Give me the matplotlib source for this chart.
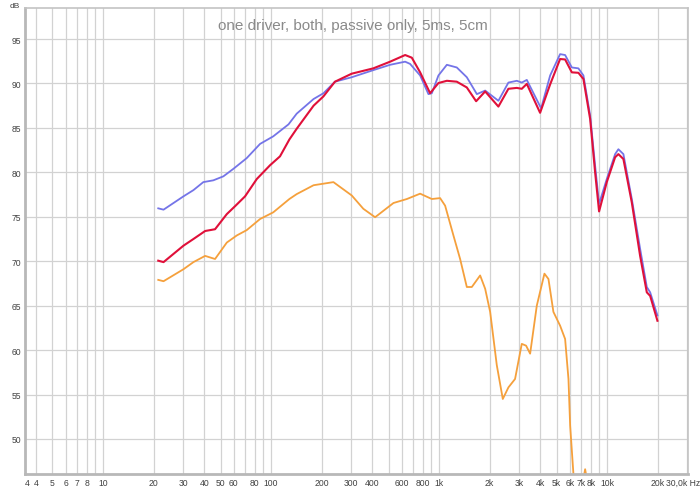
import numpy as np
import matplotlib
matplotlib.use("Agg")
import matplotlib.pyplot as plt
import matplotlib.transforms as mtransforms
from matplotlib import font_manager

plt.rcParams['font.family'] = ['Liberation Sans', 'DejaVu Sans']

# blue trace
blue_f = [21.3, 22.9, 30.1, 34.5, 39.5, 45.3, 52.0, 59.7, 71.6, 86.0, 103, 127, 142, 179, 205, 240,
          302, 406, 511, 628, 672, 771, 864, 905, 991, 1112, 1274, 1462, 1678, 1880, 2254, 2585,
          2900, 3105, 3327, 4047, 4581, 5250, 5624, 6166, 6747, 7228, 7925, 8484, 8958, 9955,
          11160, 11670, 12500, 14030, 15720, 17230, 18040, 19930]
blue_db = [75.95, 75.8, 77.3, 78.0, 78.9, 79.1, 79.55, 80.4, 81.6, 83.2, 84.05, 85.4, 86.6, 88.25, 88.9, 90.2,
           90.7, 91.5, 92.1, 92.45, 92.2, 90.9, 88.8, 88.9, 90.9, 92.1, 91.8, 90.7, 88.8, 89.2, 88.05, 90.1,
           90.3, 90.1, 90.4, 87.2, 90.9, 93.3, 93.2, 91.8, 91.7, 90.9, 86.4, 80.75, 76.45, 79.25,
           82.05, 82.6, 82.05, 77.0, 71.4, 67.1, 66.5, 63.9]

# red trace
red_f = [21.3, 22.9, 30.1, 34.5, 40.5, 46.4, 54.5, 61.1, 70.0, 82.2, 98.6, 113, 128.5, 142, 179, 205, 240,
         302, 406, 511, 628, 688, 771, 884, 991, 1112, 1274, 1462, 1661, 1880, 2254, 2585, 2900,
         3105, 3327, 3991, 4581, 5250, 5624, 6166, 6747, 7228, 7925, 8484, 8958, 9955, 11160,
         11670, 12500, 14030, 15720, 17230, 18040, 19930]
red_db = [70.06, 69.9, 71.75, 72.5, 73.4, 73.6, 75.3, 76.2, 77.3, 79.25, 80.8, 81.8, 83.7, 84.9, 87.5, 88.55, 90.2,
          91.1, 91.7, 92.45, 93.2, 92.9, 91.25, 88.9, 90.05, 90.3, 90.2, 89.55, 88.0, 89.1, 87.4, 89.4, 89.5,
          89.4, 89.95, 86.7, 89.9, 92.75, 92.7, 91.25, 91.2, 90.5, 86.0, 80.0, 75.6, 78.9, 81.7,
          82.05, 81.5, 76.6, 70.6, 66.5, 66.1, 63.3]

# orange trace
orange_f = [21.3, 22.9, 30.1, 34.5, 40.5, 46.4, 54.5, 62.5, 71.6, 86.0, 103, 128.5, 142, 179, 235, 302,
            354, 416, 535, 643, 771, 905, 1014, 1086, 1217, 1334, 1462, 1566, 1755, 1880, 2013, 2205,
            2394, 2585, 2832, 3105, 3294, 3482, 3815, 4236, 4476, 4790, 5250, 5624, 5888, 6026, 6300,
            6600, 7000, 7200, 7400, 7600, 7900]
orange_db = [67.9, 67.75, 69.1, 69.9, 70.6, 70.25, 72.1, 72.9, 73.5, 74.75, 75.5, 77.0, 77.55, 78.55, 78.9, 77.4,
             75.9, 74.95, 76.55, 77.0, 77.6, 77.0, 77.1, 76.25, 72.9, 70.25, 67.1, 67.1, 68.4, 66.9, 64.3, 58.3,
             54.5, 55.8, 56.75, 60.7, 60.5, 59.6, 65.0, 68.6, 68.0, 64.3, 62.75, 61.25, 56.75, 51.5, 46.1,
             40.0, 41.0, 45.3, 46.6, 45.3, 40.0]

grid_x = [f * d for d in (1, 10, 100, 1000, 10000) for f in range(1, 10)]
grid_x = [g for g in grid_x if 4 <= g <= 30000]
tick_x = [3.55, 4, 5, 6, 7, 8, 10, 20, 30, 40, 50, 60, 80, 100, 200, 300, 400, 600, 800,
          1000, 2000, 3000, 4000, 5000, 6000, 7000, 8000, 10000, 20000]
tick_lbl = ['4', '4', '5', '6', '7', '8', '10', '20', '30', '40', '50', '60', '80', '100', '200',
            '300', '400', '600', '800', '1k', '2k', '3k', '4k', '5k', '6k', '7k', '8k', '10k', '20k']
y_ticks = [50, 55, 60, 65, 70, 75, 80, 85, 90, 95]

installed = {f.name for f in font_manager.fontManager.ttflist}
title_font = 'Liberation Sans Narrow' if 'Liberation Sans Narrow' in installed else 'Liberation Sans'

fig = plt.figure(figsize=(7.0, 4.89), dpi=100)
ax = fig.add_axes([25 / 700, 1 - 475 / 489, 663 / 700, 466 / 489])
ax.set_xscale('log')
ax.set_xlim(3.43, 30300)
ax.set_ylim(46.06, 98.49)

for g in grid_x:
    ax.axvline(g, color='#d2d2d2', lw=0.9, zorder=0)
for y in y_ticks:
    ax.axhline(y, color='#d2d2d2', lw=0.9, zorder=0)

ax.plot(orange_f, orange_db, color='#f5a03c', lw=1.3, solid_joinstyle='round')
ax.plot(blue_f, blue_db, color='#7474e8', lw=1.3, solid_joinstyle='round')
ax.plot(red_f, red_db, color='#e0103a', lw=1.5, solid_joinstyle='round')

ax.xaxis.set_minor_locator(matplotlib.ticker.NullLocator())
ax.set_xticks(tick_x + [30300])
ax.set_xticklabels(tick_lbl + ['30,0k Hz'])
ax.set_yticks(y_ticks)
ax.set_yticklabels([str(v) for v in y_ticks])
ax.tick_params(length=0, labelsize=6.2, labelcolor='#404040', pad=3)
last = ax.get_xticklabels()[-1]
last.set_transform(last.get_transform() + mtransforms.ScaledTranslation(-5 / 100, 0, fig.dpi_scale_trans))

for side in ('left', 'bottom'):
    ax.spines[side].set_color('#b8b8b8')
    ax.spines[side].set_linewidth(2.0)
for side in ('top', 'right'):
    ax.spines[side].set_color('#c4c4c4')
    ax.spines[side].set_linewidth(1.2)

ax.text(0.495, 0.978, 'one driver, both, passive only, 5ms, 5cm', transform=ax.transAxes,
        ha='center', va='top', fontsize=12.5 if title_font.endswith('Narrow') else 11,
        family=[title_font, 'DejaVu Sans'], color='#8a8a8a')
fig.text(15 / 700, 1 - 3 / 489, 'dB', ha='center', va='top', fontsize=6, color='#404040')

fig.savefig('out.png', dpi=100, facecolor='white')
